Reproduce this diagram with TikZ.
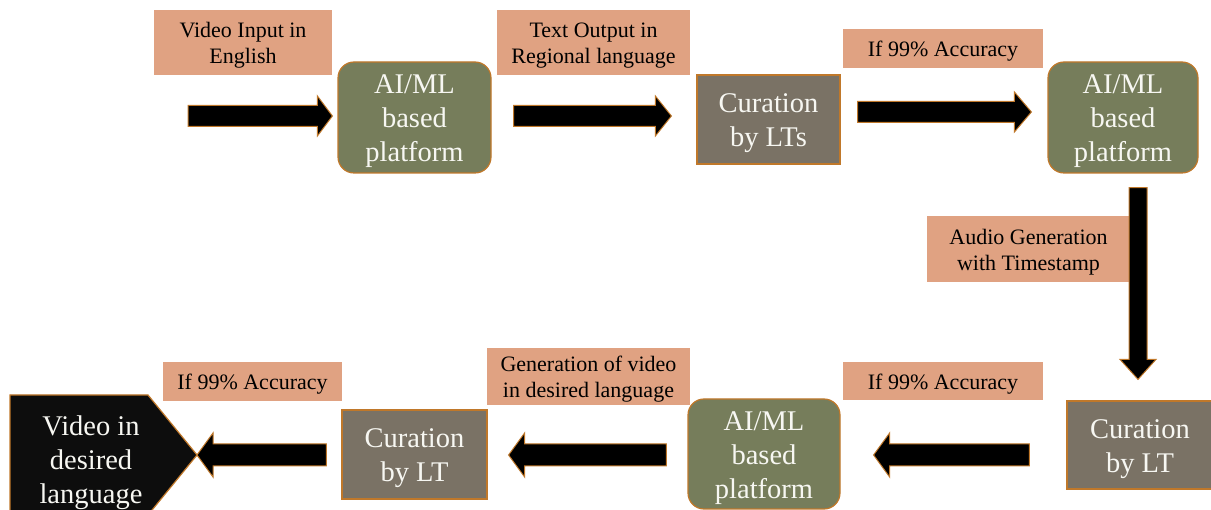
\documentclass[tikz,border=0pt]{standalone}
\usepackage{fontspec}
\setmainfont{Liberation Serif}
\usetikzlibrary{calc}
\definecolor{labc}{HTML}{E0A282}
\definecolor{olivec}{HTML}{767D5B}
\definecolor{curc}{HTML}{7A7265}
\definecolor{edgec}{HTML}{C0782A}
\definecolor{boxtext}{HTML}{F7F7F2}
\definecolor{vidc}{HTML}{0D0D0D}
\tikzset{
  ba hw/.store in=\bahw, ba HW/.store in=\baHW, ba L/.store in=\baL,
  ba hw=11pt, ba HW=21pt, ba L=15pt,
  blk/.style={draw=edgec, fill=black, line width=1pt, line join=miter,
    to path={let \p1=(\tikztostart), \p2=(\tikztotarget),
      \n1={veclen(\x2-\x1,\y2-\y1)}, \n2={(\x2-\x1)/\n1}, \n3={(\y2-\y1)/\n1} in
      ({\x1-\bahw*\n3}, {\y1+\bahw*\n2})
      -- ({\x2-\baL*\n2-\bahw*\n3}, {\y2-\baL*\n3+\bahw*\n2})
      -- ({\x2-\baL*\n2-\baHW*\n3}, {\y2-\baL*\n3+\baHW*\n2})
      -- (\x2,\y2)
      -- ({\x2-\baL*\n2+\baHW*\n3}, {\y2-\baL*\n3-\baHW*\n2})
      -- ({\x2-\baL*\n2+\bahw*\n3}, {\y2-\baL*\n3-\bahw*\n2})
      -- ({\x1+\bahw*\n3}, {\y1-\bahw*\n2})
      -- cycle}},
  ltext/.style={text=black, font=\fontsize{22}{26}\selectfont, align=center, inner sep=0pt, yshift=-3pt},
  btext/.style={text=boxtext, font=\fontsize{28.5}{34}\selectfont, align=center, inner sep=0pt, yshift=-4pt},
  lab/.style={fill=labc, inner sep=0pt, label={[ltext]center:#1}},
  aibox/.style={fill=olivec, draw=edgec, line width=1.2pt, rounded corners=16pt, inner sep=0pt,
    label={[btext]center:#1}},
  curbox/.style={fill=curc, draw=edgec, line width=1.2pt, inner sep=0pt,
    label={[btext]center:#1}},
}
\begin{document}
\begin{tikzpicture}[x=1pt, y=-1pt]
\useasboundingbox (0,0) rectangle (1211,510);
% top row
\node[lab={Video Input in\\English}, minimum width=178pt, minimum height=65pt] (l1) at (243,42.5) {};
\node[aibox={AI/ML\\based\\platform}, minimum width=153pt, minimum height=111pt] (ai1) at (414.5,117.5) {};
\node[lab={Text Output in\\Regional language}, minimum width=193pt, minimum height=65pt] (l2) at (593.5,42.5) {};
\node[curbox={Curation\\by LTs}, minimum width=143pt, minimum height=89pt] (cur1) at (768.5,119.5) {};
\node[lab={If 99\% Accuracy}, minimum width=200pt, minimum height=39pt] (l3) at (943,48.5) {};
\node[aibox={AI/ML\\based\\platform}, minimum width=150pt, minimum height=111pt] (ai2) at (1123,117.5) {};
% right side
\node[lab={Audio Generation\\with Timestamp}, minimum width=203pt, minimum height=66pt] (l4) at (1028.5,249) {};
\node[curbox={Curation\\by LT}, minimum width=146pt, minimum height=88pt] (cur2) at (1140,445) {};
% bottom row
\node[lab={If 99\% Accuracy}, minimum width=200pt, minimum height=38pt] (l5) at (943,381) {};
\node[aibox={AI/ML\\based\\platform}, minimum width=152pt, minimum height=110pt] (ai3) at (764,454) {};
\node[lab={Generation of video\\in desired language}, minimum width=203pt, minimum height=57pt] (l6) at (588.5,376.5) {};
\node[curbox={Curation\\by LT}, minimum width=145pt, minimum height=89pt] (cur3) at (414.5,454.5) {};
\node[lab={If 99\% Accuracy}, minimum width=179pt, minimum height=39pt] (l7) at (252.5,381.5) {};
% final pentagon
\draw[fill=vidc, draw=edgec, line width=1.2pt] (10,395) -- (148,395) -- (197,455) -- (148,515) -- (10,515) -- cycle;
\coordinate (vidtip) at (197,455);
\node[btext, yshift=0pt] (vid) at (91,459) {Video in\\desired\\language};
% arrows
\coordinate (in) at (188,116);
\draw[blk, ba hw=10.5pt, ba HW=20pt, ba L=15pt] (in) to ($(ai1.west)+(-5,-1.5)$);
\draw[blk, ba hw=10.5pt, ba HW=20pt, ba L=16pt] ($(ai1.east)+(22,-1.5)$) to ($(cur1.west)+(-25,-3.5)$);
\draw[blk, ba hw=10.5pt, ba HW=20pt, ba L=17pt] ($(cur1.east)+(17,-7.5)$) to ($(ai2.west)+(-16,-5.5)$);
\draw[blk, ba hw=9pt, ba HW=18pt, ba L=20pt] ($(ai2.south)+(15,14)$) to ($(cur2.north)+(-2,-21)$);
\draw[blk, ba hw=11pt, ba HW=22pt, ba L=16pt] ($(cur2.west)+(-37,10)$) to ($(ai3.east)+(33,1)$);
\draw[blk, ba hw=11pt, ba HW=22pt, ba L=16pt] ($(ai3.west)+(-21,1)$) to ($(cur3.east)+(21,0.5)$);
\draw[blk, ba hw=11pt, ba HW=22pt, ba L=16pt] ($(cur3.west)+(-15,0.5)$) to (vidtip);
\end{tikzpicture}
\end{document}
